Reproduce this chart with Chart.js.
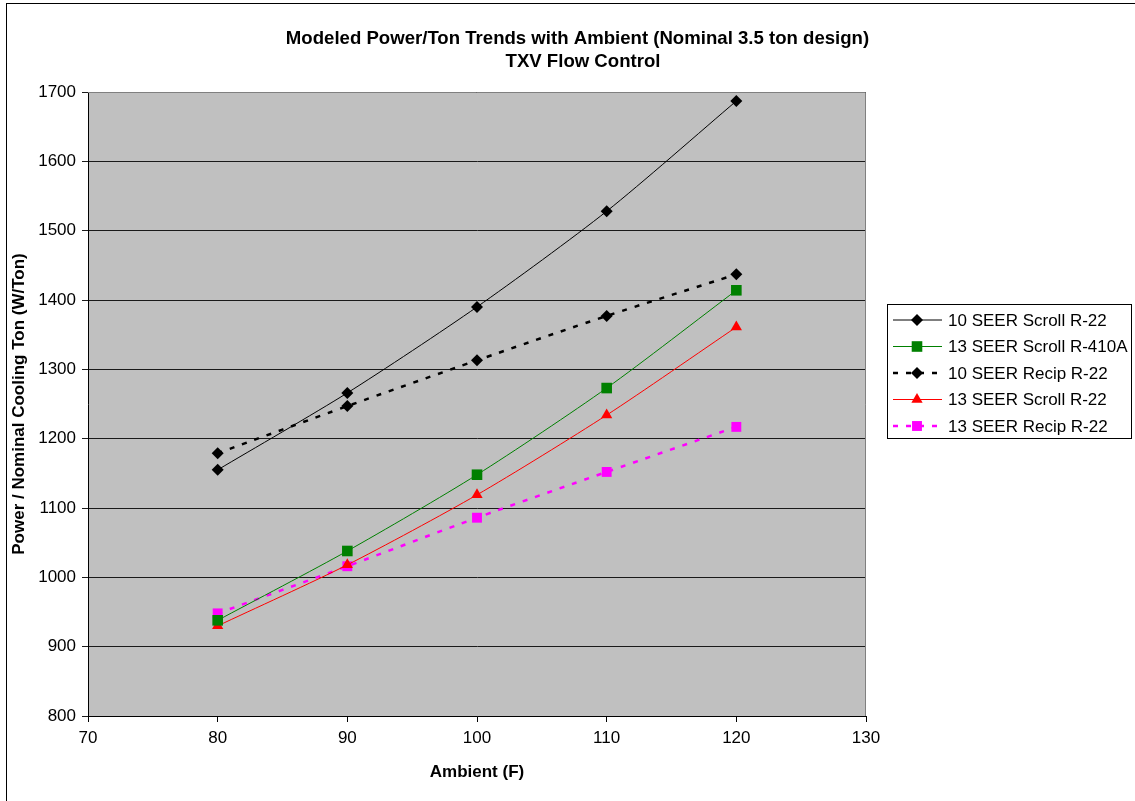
<!DOCTYPE html>
<html>
<head>
<meta charset="utf-8">
<script src="https://cdn.jsdelivr.net/npm/chart.js@4.4.1/dist/chart.umd.min.js"></script>
<style>
  html, body { margin: 0; padding: 0; background: #fff; }
  #wrap { width: 1135px; height: 801px; }
</style>
</head>
<body>
<div id="wrap"><canvas id="myChart" width="1135" height="801"></canvas></div>
<script>
// data
const ambient = [80, 90, 100, 110, 120];
const scrollR22_10 = [1155, 1266, 1390, 1528, 1687];
const scrollR410A_13 = [938, 1038, 1148, 1273, 1414];
const recipR22_10 = [1179, 1247, 1313, 1377, 1437];
const scrollR22_13 = [930, 1018, 1119, 1234, 1361];
const recipR22_13 = [948, 1016, 1086, 1152, 1217];

const titleLines = ['Modeled Power/Ton Trends with Ambient (Nominal 3.5 ton design)', 'TXV Flow Control'];
const FONT = 'Arial, "Liberation Sans", sans-serif';

function pts(ys) {
    return ambient.map((x, i) => ({ x: x, y: ys[i] }));
}

const seriesList = [
    { label: '10 SEER Scroll R-22', data: scrollR22_10, color: '#000000', width: 1, dash: [], point: 'rectRot', r: 6 },
    { label: '13 SEER Scroll R-410A', data: scrollR410A_13, color: '#008000', width: 1, dash: [], point: 'rect', r: 7.5 },
    { label: '10 SEER Recip R-22', data: recipR22_10, color: '#000000', width: 2.5, dash: [5, 8], point: 'rectRot', r: 6 },
    { label: '13 SEER Scroll R-22', data: scrollR22_13, color: '#ff0000', width: 1, dash: [], point: 'triangle', r: 6.5 },
    { label: '13 SEER Recip R-22', data: recipR22_13, color: '#ff00ff', width: 2.5, dash: [5, 8], point: 'rect', r: 7 }
];

const datasets = seriesList.map(s => ({
    label: s.label,
    data: pts(s.data),
    borderColor: s.color,
    backgroundColor: s.color,
    borderWidth: s.width,
    borderDash: s.dash,
    pointStyle: s.point,
    pointRadius: s.r,
    pointHoverRadius: s.r,
    pointBorderWidth: 0,
    pointBackgroundColor: s.color,
    tension: 0.25,
    fill: false
}));

// grey plot area, border, title, outer frame and boxed legend
const decor = {
    id: 'decor',
    beforeDraw(chart) {
        const { ctx, chartArea: a } = chart;
        ctx.save();
        ctx.fillStyle = '#ffffff';
        ctx.fillRect(0, 0, chart.width, chart.height);
        ctx.fillStyle = '#c0c0c0';
        ctx.fillRect(a.left, a.top, a.right - a.left, a.bottom - a.top);
        ctx.restore();
    },
    beforeDatasetsDraw(chart) {
        const { ctx, chartArea: a } = chart;
        ctx.save();
        ctx.strokeStyle = '#808080';
        ctx.lineWidth = 1;
        ctx.beginPath();
        ctx.moveTo(a.left, a.top + 0.5);
        ctx.lineTo(a.right - 0.5, a.top + 0.5);
        ctx.lineTo(a.right - 0.5, a.bottom);
        ctx.stroke();
        ctx.restore();
    },
    afterDraw(chart) {
        const ctx = chart.ctx;
        ctx.save();
        // outer frame
        ctx.strokeStyle = '#000';
        ctx.lineWidth = 1;
        ctx.strokeRect(6.5, 3.5, 1200, 900);

        // title
        ctx.fillStyle = '#000';
        ctx.font = 'bold 18.6px ' + FONT;
        ctx.textAlign = 'center';
        ctx.textBaseline = 'middle';
        ctx.fillText(titleLines[0], 577.5, 39);
        ctx.fillText(titleLines[1], 583, 62);

        // legend
        const bx = 887.5, by = 304.5, bw = 244, bh = 134;
        ctx.fillStyle = '#fff';
        ctx.fillRect(bx, by, bw, bh);
        ctx.strokeStyle = '#000';
        ctx.strokeRect(bx, by, bw, bh);
        chart.data.datasets.forEach((ds, i) => {
            const y = 320 + i * 26.5;
            ctx.save();
            ctx.strokeStyle = ds.borderColor;
            ctx.lineWidth = ds.borderWidth;
            ctx.setLineDash(ds.borderDash);
            ctx.beginPath();
            ctx.moveTo(893, y);
            ctx.lineTo(942, y);
            ctx.stroke();
            ctx.restore();
            ctx.fillStyle = ds.pointBackgroundColor;
            Chart.helpers.drawPoint(ctx, {
                pointStyle: ds.pointStyle, radius: ds.pointRadius, rotation: 0, borderWidth: 0
            }, 917, y);
            ctx.fillStyle = '#000';
            ctx.font = '17px ' + FONT;
            ctx.textAlign = 'left';
            ctx.textBaseline = 'middle';
            ctx.fillText(ds.label, 948, y + 1);
        });
        ctx.restore();
    }
};

const ctx = document.getElementById('myChart').getContext('2d');
const chart = new Chart(ctx, {
    type: 'line',
    data: { datasets: datasets },
    options: {
        responsive: false,
        animation: false,
        layout: { padding: { left: 4, right: 269, top: 92, bottom: 0 } },
        plugins: {
            legend: { display: false },
            title: { display: false },
            tooltip: { enabled: false }
        },
        scales: {
            x: {
                type: 'linear',
                min: 70,
                max: 130,
                ticks: { stepSize: 10, color: '#000', font: { size: 17, family: FONT }, padding: 6, maxRotation: 0,
                         callback: v => String(v) },
                grid: { drawOnChartArea: false, drawTicks: true, tickLength: 6, color: '#000', lineWidth: 1 },
                border: { display: true, color: '#000', width: 1 },
                title: { display: true, text: 'Ambient (F)', color: '#000', font: { size: 17, weight: 'bold', family: FONT }, padding: { top: 0, bottom: 18 } },
                afterFit(scale) { scale.height = 85; }
            },
            y: {
                min: 800,
                max: 1700,
                ticks: { stepSize: 100, color: '#000', font: { size: 17, family: FONT }, padding: 6,
                         callback: v => String(v) },
                grid: { color: '#1a1a1a', lineWidth: 1, drawTicks: true, tickLength: 6 },
                border: { display: true, color: '#000', width: 1 },
                title: { display: true, text: 'Power / Nominal Cooling Ton (W/Ton)', color: '#000', font: { size: 17, weight: 'bold', family: FONT }, padding: { top: 5, bottom: 0 } },
                afterFit(scale) { scale.width = 84; }
            }
        }
    },
    plugins: [decor]
});
</script>
</body>
</html>
